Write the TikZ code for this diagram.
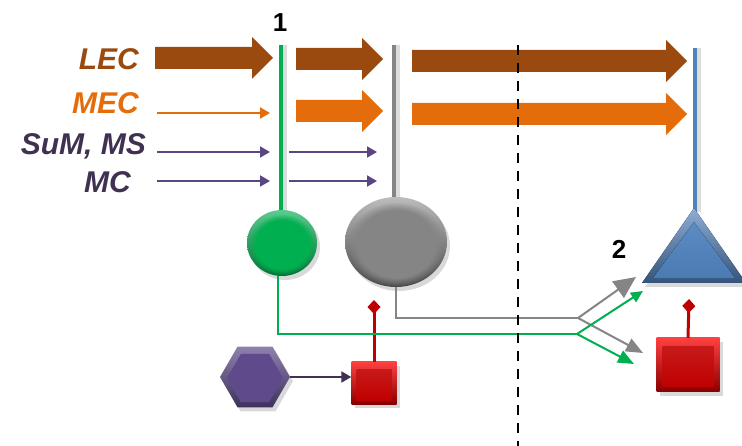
\documentclass[tikz,border=0pt]{standalone}
\usepackage{fontspec}
\setmainfont{Liberation Sans}
\usetikzlibrary{arrows.meta,shapes.geometric,shadows,calc,fadings}

\definecolor{lecbrown}{HTML}{9A4A0E}
\definecolor{mecorange}{HTML}{E46C0A}
\definecolor{inpurple}{HTML}{5A4680}
\definecolor{txtpurple}{HTML}{403152}
\definecolor{cellgreen}{HTML}{00B050}
\definecolor{cellgray}{HTML}{858585}
\definecolor{cellblue}{HTML}{4F81BD}
\definecolor{cellred}{HTML}{C00000}
\definecolor{hexpurple}{HTML}{5F4B8B}

% wide block arrow: colour, tail x, tip x, centre y
\newcommand\blockarrow[4]{%
  \fill[#1] (#2,#4-11) -- (#3-21,#4-11) -- (#3-21,#4-21) -- (#3,#4)
    -- (#3-21,#4+21) -- (#3-21,#4+11) -- (#2,#4+11) -- cycle;}

\tikzset{
  lbl/.style={font=\fontsize{30}{32}\selectfont\bfseries\itshape, inner sep=0pt},
  numlbl/.style={font=\fontsize{26}{28}\selectfont\bfseries, inner sep=0pt},
  thinarrow/.style={line width=2pt, -{Triangle[length=10pt,width=11pt]}},
  dendrite/.style={line width=4.5pt, preaction={draw=black!30, opacity=0.45,
      line width=4pt, transform canvas={xshift=3.5pt}}},
  axon/.style={line width=2pt},
  cellshadow/.style={drop shadow={shadow xshift=3pt, shadow yshift=-4pt, opacity=0.3}},
  redstalk/.style={cellred, line width=3pt, -{Turned Square[length=14pt,width=13pt]}},
  softcore/.style={path fading=circle with fuzzy edge 20 percent},
}

\begin{document}
\begin{tikzpicture}[x=1pt, y=-1pt]
\useasboundingbox (0,0) rectangle (742,446);

% ---- input labels ----
\node[lbl, text=lecbrown,  anchor=base east] (lec) at (139,70) {LEC};
\node[lbl, text=mecorange, anchor=base east] (mec) at (139,114) {MEC};
\node[lbl, text=txtpurple, anchor=base east] (sum) at (146,155) {SuM, MS};
\node[lbl, text=txtpurple, anchor=base east] (mc)  at (131,193) {MC};

% ---- dendrites ----
\draw[dendrite, cellgreen] (281,45) coordinate (gtop) -- (281,214) coordinate (gbot);
\draw[dendrite, cellgray]  (394,45) coordinate (ytop) -- (394,200) coordinate (ybot);
\draw[dendrite, cellblue]  (695,48) coordinate (btop) -- (695,212) coordinate (bbot);

% ---- block arrows ----
\blockarrow{lecbrown}{155}{273}{58}
\blockarrow{lecbrown}{296}{383}{59}
\blockarrow{lecbrown}{412}{687}{61}
\blockarrow{mecorange}{296}{383}{111}
\blockarrow{mecorange}{412}{687}{114}

% ---- thin input arrows ----
\draw[thinarrow, mecorange] (157,113) coordinate (mA) -- (270,113) coordinate (mB);
\draw[thinarrow, inpurple]  (157,152) coordinate (sA) -- (270,152) coordinate (sB);
\draw[thinarrow, inpurple]  (289,152) coordinate (sC) -- (377,152) coordinate (sD);
\draw[thinarrow, inpurple]  (157,181) coordinate (cA) -- (270,181) coordinate (cB);
\draw[thinarrow, inpurple]  (289,181) coordinate (cC) -- (377,181) coordinate (cD);

% ---- cell labels ----
\node[numlbl, anchor=base] (n1) at (280,32) {1};
\node[numlbl, anchor=base] (n2) at (619,259) {2};

% ---- green cell ----
\node[ellipse, minimum width=70pt, minimum height=66pt, inner sep=0pt, cellshadow,
      top color=cellgreen!65!white, bottom color=cellgreen!65!black] (gsoma) at (282,243) {};
\fill[cellgreen, softcore]
  (gsoma.center) ++(0,1.5) ellipse [x radius=33pt, y radius=30.5pt];

% ---- gray cell ----
\node[ellipse, minimum width=102pt, minimum height=90pt, inner sep=0pt, cellshadow,
      top color=cellgray!55!white, bottom color=cellgray!55!black] (ysoma) at (396,242) {};
\fill[cellgray, softcore]
  (ysoma.center) ++(0,2) ellipse [x radius=48.5pt, y radius=42pt];

% ---- pyramidal cell ----
\coordinate (apex) at (694,208);
\fill[cellshadow, top color=cellblue!65!white, bottom color=cellblue!65!black]
  (apex) -- (746,283) -- (642,283) -- cycle;
\fill[top color=cellblue!92!white, bottom color=cellblue!95!black]
  (694,222) -- (735,278) -- (653,278) -- cycle;

% ---- interneuron (purple hexagon) ----
\node[regular polygon, regular polygon sides=6, minimum size=70pt, inner sep=0pt, cellshadow,
      top color=hexpurple!70!white, bottom color=hexpurple!65!black] (hex) at (255,377) {};
\node[regular polygon, regular polygon sides=6, minimum size=56pt, inner sep=0pt,
      fill=hexpurple] (hexcore) at (255,378) {};

% ---- red targets ----
\node[rectangle, minimum width=45pt, minimum height=42pt, inner sep=0pt, cellshadow,
      top color=red!75!white, bottom color=cellred!70!black] (rsqA) at (374,383) {};
\node[rectangle, minimum width=35pt, minimum height=30pt, inner sep=0pt,
      top color=cellred!90!white, bottom color=cellred] (rsqAcore) at (374,385) {};
\node[rectangle, minimum width=63pt, minimum height=54pt, inner sep=0pt, cellshadow,
      top color=red!75!white, bottom color=cellred!70!black] (rsqB) at (688,365) {};
\node[rectangle, minimum width=51pt, minimum height=40pt, inner sep=0pt,
      top color=cellred!90!white, bottom color=cellred] (rsqBcore) at (688,367) {};

\draw[redstalk] (rsqA.north) -- (374,300) coordinate (dmA);
\draw[redstalk] (rsqB.north) -- (689,299) coordinate (dmB);

% ---- hexagon to red square ----
\draw[thinarrow, txtpurple] (hex.east) -- (hex.east -| rsqA.west);

% ---- axons ----
\coordinate (gdown) at (278,334);
\coordinate (gfork) at (577,334);
\coordinate (gup)   at (643,291);
\coordinate (glow)  at (634,364);
\coordinate (ydown) at (396,318);
\coordinate (yfork) at (578,318);
\coordinate (yup)   at (636,277);
\coordinate (ylow)  at (643,353);

\draw[axon, cellgray] (ysoma.south) -- (ydown) -- (yfork);
\draw[axon, cellgray, -{Triangle[length=22pt,width=20pt]}] (yfork) -- (yup);
\draw[axon, cellgray, -{Triangle[length=17pt,width=14pt]}] (yfork) -- (ylow);
\draw[axon, cellgreen] (gsoma.south -| gdown) -- (gdown) -- (gfork);
\draw[axon, cellgreen, -{Triangle[length=12pt,width=11pt]}] (gfork) -- (gup);
\draw[axon, cellgreen, -{Triangle[length=16pt,width=13pt]}] (gfork) -- (glow);

% ---- boundary ----
\draw[line width=2pt, dash pattern=on 10pt off 8pt] (518,45) coordinate (dtop) -- (518,446) coordinate (dbot);
\end{tikzpicture}
\end{document}
